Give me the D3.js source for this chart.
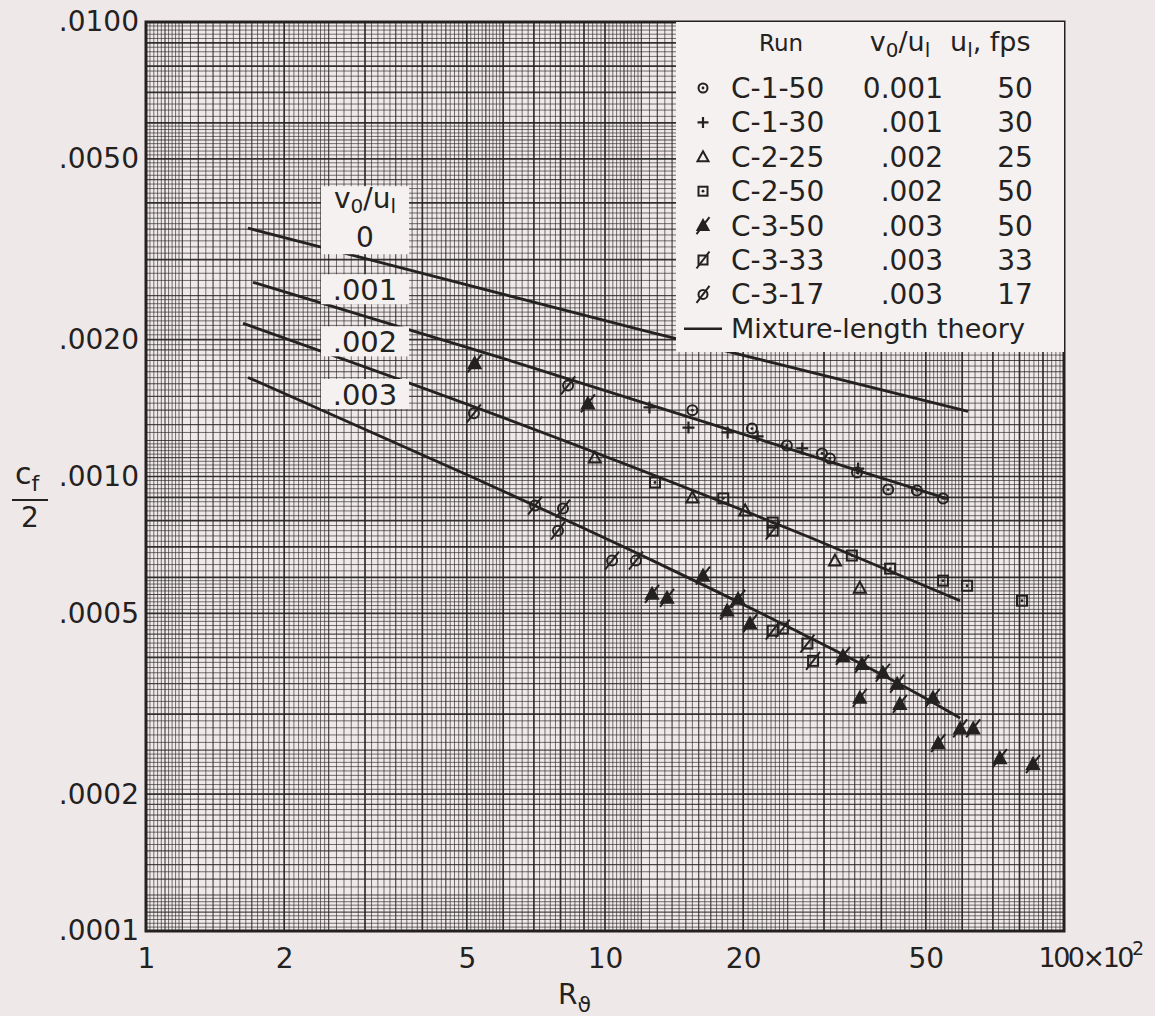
<!DOCTYPE html>
<html>
<head>
<meta charset="utf-8">
<script src="https://cdn.jsdelivr.net/npm/d3@7"></script>
<style>
    html, body { margin: 0; padding: 0; background: #eee9e8; }
    svg { display: block; font-family: "DejaVu Sans", sans-serif; }
</style>
</head>
<body>
<svg id="chart" width="1155" height="1016"></svg>
<script>
// axis ticks (R_theta is in units of 10^2)
var xTicks = [1, 2, 5, 10, 20, 50, 100];
var xTickLabels = ["1", "2", "5", "10", "20", "50", "100×10"];
var yTicks = [0.01, 0.005, 0.002, 0.001, 0.0005, 0.0002, 0.0001];
var yTickLabels = [".0100", ".0050", ".0020", ".0010", ".0005", ".0002", ".0001"];

// legend table
var runNames = ["C-1-50", "C-1-30", "C-2-25", "C-2-50", "C-3-50", "C-3-33", "C-3-17"];
var runRatios = ["0.001", ".001", ".002", ".002", ".003", ".003", ".003"];
var runSpeeds = ["50", "30", "25", "50", "50", "33", "17"];
var runSymbols = ["circleDot", "plus", "triangle", "squareDot", "triangleSlash", "squareSlash", "circleSlash"];

// measured points [R_theta x 10^-2, cf/2]
var c1_50 = [[15.5, 0.001398], [20.9, 0.001275], [24.9, 0.00117], [29.7, 0.001124], [30.9, 0.001096],
             [35.4, 0.00102], [41.4, 0.000936], [47.8, 0.000932], [54.5, 0.000895]];
var c1_30 = [[12.5, 0.001419], [15.2, 0.001281], [18.5, 0.00125], [21.5, 0.001225], [26.9, 0.001153],
             [35.6, 0.001041]];
var c2_25 = [[9.5, 0.001101], [15.5, 0.000899], [20.2, 0.000842], [31.7, 0.000653], [35.9, 0.000569]];
var c2_50 = [[12.85, 0.00097], [18.1, 0.000895], [23.2, 0.000792], [34.5, 0.00067], [41.8, 0.000627],
             [54.5, 0.00059], [61.5, 0.000575], [81, 0.000533]];
var c3_50 = [[5.2, 0.001774], [9.18, 0.001448], [12.66, 0.000552], [13.65, 0.000541], [16.35, 0.000605],
             [18.45, 0.000507], [19.5, 0.000538], [20.7, 0.000475], [33.0, 0.000403], [36.3, 0.000387],
             [40.3, 0.00037], [43.3, 0.00035], [35.9, 0.000326], [43.9, 0.000316], [51.8, 0.000326],
             [53.2, 0.000259], [59.4, 0.000279], [63.4, 0.000279], [72.5, 0.00024], [85.6, 0.000233]];
var c3_33 = [[23.2, 0.000458], [24.4, 0.000463], [27.6, 0.000429], [28.4, 0.000393], [23.2, 0.00076]];
var c3_17 = [[5.18, 0.001377], [8.31, 0.001586], [7.04, 0.000863], [8.1, 0.00085], [7.9, 0.00076],
             [10.36, 0.000653], [11.68, 0.000653]];

// mixture-length theory curves
var theory0 = [[1.668, 0.003518], [12.1, 0.002097], [61.8, 0.00139]];
var theory001 = [[1.711, 0.002675], [5.9, 0.001829], [55.6, 0.000894]];
var theory002 = [[1.627, 0.002173], [5.9, 0.001356], [28.0, 0.000734], [59.4, 0.000533]];
var theory003 = [[1.668, 0.001652], [5.16, 0.000995], [12.7, 0.000653], [26.6, 0.000453],
                 [47.8, 0.000333], [59.4, 0.000294]];

// curve labels: [text, R, cf/2]
var curveLabels = [["0", 3.0, 0.003664], [".001", 3.0, 0.002582], [".002", 3.0, 0.001983], [".003", 3.0, 0.001519]];

var ink = "#242121";
var paper = "#f5f1f0";

var margin = {top: 22, right: 91, bottom: 85, left: 146};
var width = 1155 - margin.left - margin.right,
    height = 1016 - margin.top - margin.bottom;

var x = d3.scaleLog().domain([1, 100]).range([0, width]);
var y = d3.scaleLog().domain([0.0001, 0.01]).range([height, 0]);

var svg = d3.select("#chart");
var plot = svg.append("g")
    .attr("transform", "translate(" + margin.left + "," + margin.top + ")");

// log graph paper: blocks of [from, to, step] inside each decade
var gridBlocks = [[1, 1.2, 0.02], [1.2, 2, 0.05], [2, 2.5, 0.05], [2.5, 5, 0.1], [5, 6, 0.1], [6, 10, 0.2]];

function gridLines(decades) {
    var out = [];
    decades.forEach(function (d) {
        gridBlocks.forEach(function (b) {
            var n = Math.round((b[1] - b[0]) / b[2]);
            for (var i = 0; i < n; i++) {
                var m = b[0] + i * b[2];
                var level = 0;
                if (Math.abs(m - Math.round(m)) < 1e-6) {
                    level = 2;
                } else if (Math.abs(m * 2 - Math.round(m * 2)) < 1e-6 ||
                           (m < 2 && Math.abs(m * 10 - Math.round(m * 10)) < 1e-6)) {
                    level = 1;
                }
                out.push({v: m * d, level: level});
            }
        });
    });
    out.push({v: decades[decades.length - 1] * 10, level: 2});
    return out;
}

var lineW = [1.0, 1.2, 1.7];
var lineOp = [0.62, 0.8, 0.92];

plot.append("rect")
    .attr("width", width)
    .attr("height", height)
    .attr("fill", "#efeae9");

plot.append("g").selectAll("line")
    .data(gridLines([1, 10]))
    .enter().append("line")
    .attr("x1", function (d) { return x(d.v); })
    .attr("x2", function (d) { return x(d.v); })
    .attr("y1", 0)
    .attr("y2", height)
    .attr("stroke", ink)
    .attr("stroke-width", function (d) { return lineW[d.level]; })
    .attr("stroke-opacity", function (d) { return lineOp[d.level]; });

plot.append("g").selectAll("line")
    .data(gridLines([0.0001, 0.001]))
    .enter().append("line")
    .attr("y1", function (d) { return y(d.v); })
    .attr("y2", function (d) { return y(d.v); })
    .attr("x1", 0)
    .attr("x2", width)
    .attr("stroke", ink)
    .attr("stroke-width", function (d) { return lineW[d.level]; })
    .attr("stroke-opacity", function (d) { return lineOp[d.level]; });

// theory curves
var valueline = d3.line()
    .x(function (d) { return x(d[0]); })
    .y(function (d) { return y(d[1]); })
    .curve(d3.curveMonotoneX);

[theory0, theory001, theory002, theory003].forEach(function (t) {
    plot.append("path")
        .attr("d", valueline(t))
        .attr("fill", "none")
        .attr("stroke", ink)
        .attr("stroke-width", 2.8);
});

// curve label boxes
var lab = plot.append("g");
curveLabels.forEach(function (l, i) {
    var cx = x(l[1]), cy = y(l[2]);
    if (i === 0) {
        lab.append("rect").attr("x", cx - 44).attr("y", cy - 34).attr("width", 88).attr("height", 68)
            .attr("fill", paper);
        var t = lab.append("text").attr("x", cx).attr("y", cy - 12)
            .attr("text-anchor", "middle").attr("font-size", 28).attr("fill", ink);
        t.append("tspan").text("v");
        t.append("tspan").attr("font-size", 20).attr("dy", 5).text("0");
        t.append("tspan").attr("dy", -5).text("/u");
        t.append("tspan").attr("font-size", 20).attr("dy", 5).text("l");
        lab.append("text").attr("x", cx).attr("y", cy + 27)
            .attr("text-anchor", "middle").attr("font-size", 28).attr("fill", ink).text(l[0]);
    } else {
        lab.append("rect").attr("x", cx - 44).attr("y", cy - 15).attr("width", 88).attr("height", 30)
            .attr("fill", paper);
        lab.append("text").attr("x", cx).attr("y", cy + 11)
            .attr("text-anchor", "middle").attr("font-size", 29).attr("fill", ink).text(l[0]);
    }
});

// markers
function addMarker(g, type, s) {
    if (type === "circleDot" || type === "circleSlash") {
        g.append("circle").attr("r", s).attr("fill", "none").attr("stroke", ink).attr("stroke-width", 2);
    }
    if (type === "squareDot" || type === "squareSlash") {
        g.append("rect").attr("x", -s).attr("y", -s).attr("width", 2 * s).attr("height", 2 * s)
            .attr("fill", "none").attr("stroke", ink).attr("stroke-width", 2);
    }
    if (type === "triangle" || type === "triangleSlash") {
        g.append("path")
            .attr("d", "M0," + (-s - 1) + "L" + (s + 1) + "," + s + "L" + (-s - 1) + "," + s + "Z")
            .attr("fill", type === "triangleSlash" ? ink : "none")
            .attr("stroke", ink).attr("stroke-width", 2);
    }
    if (type === "circleDot" || type === "squareDot") {
        g.append("circle").attr("r", 1.4).attr("fill", ink);
    }
    if (type === "plus") {
        g.append("path").attr("d", "M" + (-s - 1) + ",0H" + (s + 1) + "M0," + (-s - 1) + "V" + (s + 1))
            .attr("stroke", ink).attr("stroke-width", 2.2);
    }
    if (type === "circleSlash" || type === "squareSlash" || type === "triangleSlash") {
        g.append("path").attr("d", "M" + (-s - 2) + "," + (s + 4) + "L" + (s + 2) + "," + (-s - 4))
            .attr("stroke", ink).attr("stroke-width", 2);
    }
}

var runData = [c1_50, c1_30, c2_25, c2_50, c3_50, c3_33, c3_17];
runData.forEach(function (pts, i) {
    plot.append("g").selectAll("g")
        .data(pts)
        .enter().append("g")
        .attr("transform", function (d) { return "translate(" + x(d[0]) + "," + y(d[1]) + ")"; })
        .each(function () { addMarker(d3.select(this), runSymbols[i], 5); });
});

// legend
var leg = svg.append("g");
leg.append("rect")
    .attr("x", 676).attr("y", margin.top)
    .attr("width", margin.left + width - 676).attr("height", 330)
    .attr("fill", paper);

leg.append("text").attr("x", 781).attr("y", 51).attr("text-anchor", "middle")
    .attr("font-size", 23).attr("fill", ink).text("Run");
var h2 = leg.append("text").attr("x", 900).attr("y", 51).attr("text-anchor", "middle")
    .attr("font-size", 27).attr("fill", ink);
h2.append("tspan").text("v");
h2.append("tspan").attr("font-size", 20).attr("dy", 6).text("0");
h2.append("tspan").attr("dy", -6).text("/u");
h2.append("tspan").attr("font-size", 20).attr("dy", 6).text("l");
var h3 = leg.append("text").attr("x", 950).attr("y", 51)
    .attr("font-size", 27).attr("fill", ink);
h3.append("tspan").text("u");
h3.append("tspan").attr("font-size", 20).attr("dy", 6).text("l");
h3.append("tspan").attr("dy", -6).text(", fps");

runNames.forEach(function (name, i) {
    var ry = 88 + i * 34.4;
    var g = leg.append("g").attr("transform", "translate(703," + ry + ")");
    addMarker(g, runSymbols[i], 4.5);
    leg.append("text").attr("x", 731).attr("y", ry + 10).attr("font-size", 28).attr("fill", ink).text(name);
    leg.append("text").attr("x", 943).attr("y", ry + 10).attr("text-anchor", "end")
        .attr("font-size", 28).attr("fill", ink).text(runRatios[i]);
    leg.append("text").attr("x", 1015).attr("y", ry + 10).attr("text-anchor", "middle")
        .attr("font-size", 28).attr("fill", ink).text(runSpeeds[i]);
});
var ly = 88 + 7 * 34.4;
leg.append("line").attr("x1", 684).attr("x2", 722).attr("y1", ly).attr("y2", ly)
    .attr("stroke", ink).attr("stroke-width", 2.4);
leg.append("text").attr("x", 731).attr("y", ly + 9).attr("font-size", 27).attr("fill", ink)
    .text("Mixture-length theory");

// frame
plot.append("rect")
    .attr("width", width)
    .attr("height", height)
    .attr("fill", "none")
    .attr("stroke", ink)
    .attr("stroke-width", 3);

// axes
var xAxis = d3.axisBottom(x)
    .tickValues(xTicks)
    .tickSize(0)
    .tickPadding(17)
    .tickFormat(function (d, i) { return xTickLabels[i]; });

var yAxis = d3.axisLeft(y)
    .tickValues(yTicks)
    .tickSize(0)
    .tickPadding(7)
    .tickFormat(function (d, i) { return yTickLabels[i]; });

var gx = plot.append("g")
    .attr("transform", "translate(0," + height + ")")
    .call(xAxis);
var gy = plot.append("g").call(yAxis);

[gx, gy].forEach(function (g) {
    g.select(".domain").remove();
    g.selectAll("text")
        .attr("font-family", "DejaVu Sans, sans-serif")
        .attr("font-size", 28)
        .attr("fill", ink);
});

// 100x10^2 label, squeezed to fit like the original lettering
gx.selectAll(".tick text")
    .filter(function (d) { return d === 100; })
    .attr("text-anchor", "start")
    .attr("x", -26)
    .attr("font-size", 27)
    .attr("letter-spacing", -2.5)
    .append("tspan")
    .attr("font-size", 19)
    .attr("dy", "-0.65em")
    .text("2");

// axis titles
var yt = svg.append("g");
var ct = yt.append("text").attr("x", 15).attr("y", 484).attr("font-size", 30).attr("fill", ink);
ct.append("tspan").text("c");
ct.append("tspan").attr("font-size", 22).attr("dy", 7).text("f");
yt.append("line").attr("x1", 12).attr("x2", 48).attr("y1", 500).attr("y2", 500)
    .attr("stroke", ink).attr("stroke-width", 2.2);
yt.append("text").attr("x", 30).attr("y", 527).attr("text-anchor", "middle")
    .attr("font-size", 28).attr("fill", ink).text("2");

var xt = svg.append("text").attr("x", 558).attr("y", 1004).attr("font-size", 28).attr("fill", ink);
xt.append("tspan").text("R");
xt.append("tspan").attr("font-size", 22).attr("dy", 8).text("ϑ");
</script>
</body>
</html>
